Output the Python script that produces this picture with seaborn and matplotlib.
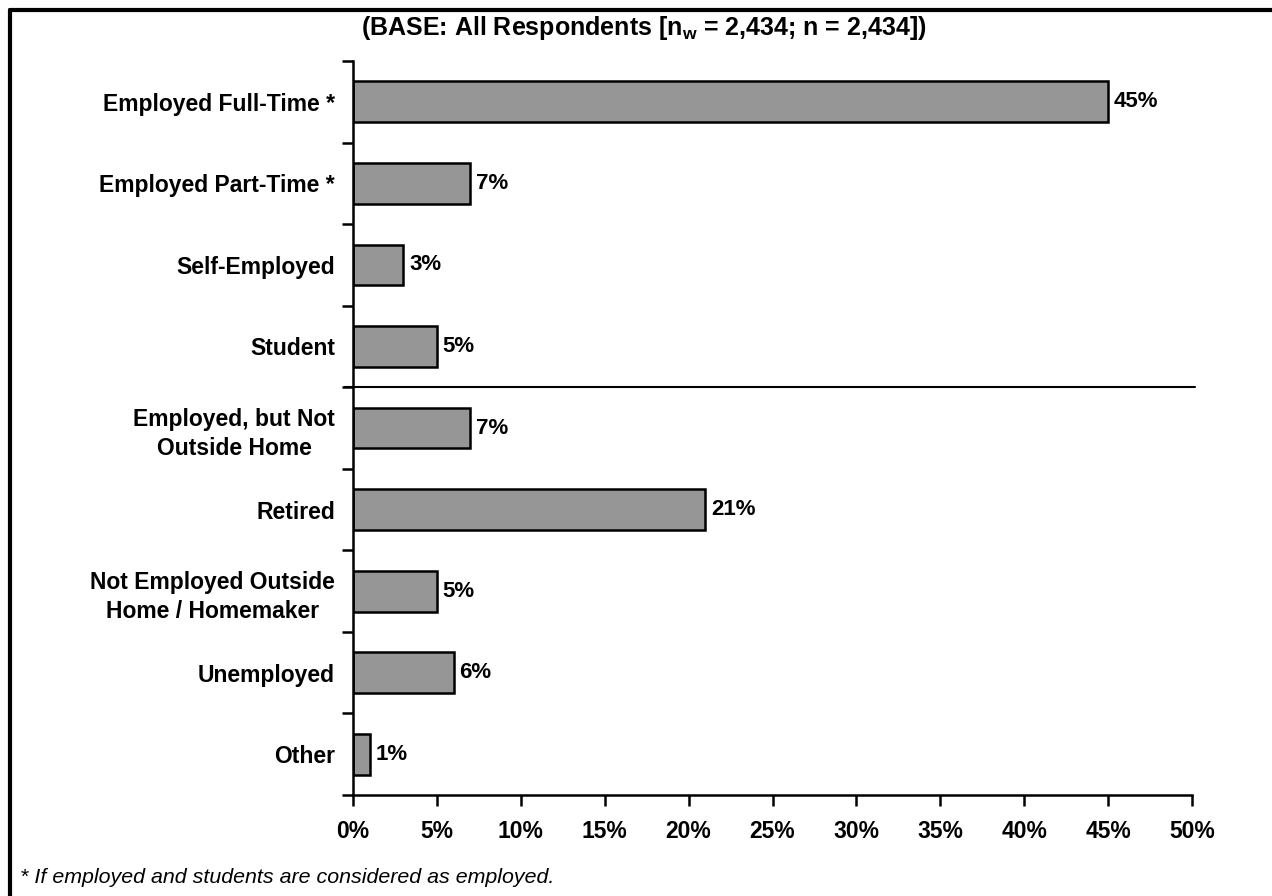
import matplotlib
matplotlib.use("Agg")
import matplotlib.pyplot as plt
from matplotlib.lines import Line2D
import seaborn as sns
import pandas as pd

categories = ["Employed Full-Time *", "Employed Part-Time *", "Self-Employed", "Student",
              "Employed, but Not\nOutside Home", "Retired",
              "Not Employed Outside\nHome / Homemaker", "Unemployed", "Other"]
values = [45, 7, 3, 5, 7, 21, 5, 6, 1]
x_ticks = [0, 5, 10, 15, 20, 25, 30, 35, 40, 45, 50]

sns.set_theme(style="white")
plt.rcParams['font.family'] = ['Liberation Sans', 'DejaVu Sans']
plt.rcParams['text.color'] = 'black'
plt.rcParams['axes.labelcolor'] = 'black'
plt.rcParams['xtick.color'] = 'black'
plt.rcParams['ytick.color'] = 'black'
plt.rcParams['mathtext.fontset'] = 'custom'
plt.rcParams['mathtext.rm'] = 'Liberation Sans:bold'
plt.rcParams['mathtext.bf'] = 'Liberation Sans:bold'

df = pd.DataFrame({"category": categories, "value": values})

fig = plt.figure(figsize=(12.72, 8.96), dpi=100)
ax = fig.add_axes([353 / 1272, 1 - 795 / 896, (1192 - 353) / 1272, (795 - 61) / 896])

sns.barplot(data=df, y="category", x="value", orient="h", color="#969696",
            saturation=1, edgecolor="black", linewidth=1.8, width=0.5, ax=ax)

for i, v in enumerate(values):
    ax.text(v + 0.35, i, f"{v}%", va="center", ha="left", fontsize=16, fontweight="bold", color="black")

ax.set_xlim(0, 50)
ax.set_ylim(len(categories) - 0.5, -0.5)
ax.set_xticks(x_ticks)
ax.set_xticklabels([f"{t}%" for t in x_ticks], fontsize=16.5, fontweight="bold")
ax.set_yticks(range(len(categories)))
ax.set_yticklabels(categories, fontsize=16.5, fontweight="bold", multialignment="center",
                   linespacing=1.35)
ax.set_yticks([i - 0.5 for i in range(len(categories) + 1)], minor=True)
ax.tick_params(axis="y", which="major", length=0, pad=13)
ax.tick_params(axis="y", which="minor", length=8, width=1.8, direction="out", color="black", left=True)
ax.tick_params(axis="x", length=8, width=1.8, direction="out", color="black", bottom=True, pad=10)
ax.set_xlabel("")
ax.set_ylabel("")

for s in ["top", "right"]:
    ax.spines[s].set_visible(False)
for s in ["left", "bottom"]:
    ax.spines[s].set_color("black")
    ax.spines[s].set_linewidth(1.8)

# separator between student and the rest
ax.plot([-0.5, 50.15], [3.5, 3.5], color="black", lw=1.5, clip_on=False)

fig.text(644 / 1272, 1 - 28 / 896,
         r"(BASE: All Respondents [n$_{\mathrm{w}}$ = 2,434; n = 2,434])",
         ha="center", va="center", fontsize=18, fontweight="bold")
fig.text(20 / 1272, 1 - 883 / 896, "* If employed and students are considered as employed.",
         ha="left", va="baseline", fontsize=15.4, style="italic")

# page frame (top and left)
fig.add_artist(Line2D([10 / 1272, 1], [1 - 10 / 896, 1 - 10 / 896], color="black", lw=3))
fig.add_artist(Line2D([10 / 1272, 10 / 1272], [0, 1 - 10 / 896], color="black", lw=3))

fig.savefig("out.png", dpi=100)
